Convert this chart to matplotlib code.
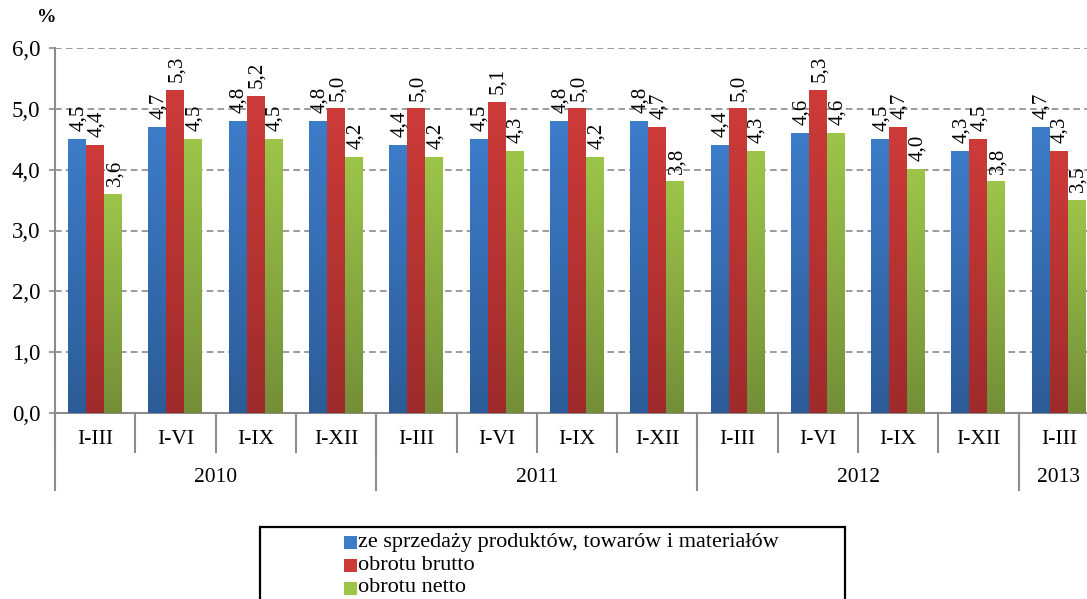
import matplotlib
matplotlib.use("Agg")
import matplotlib.pyplot as plt
import numpy as np
from matplotlib.colors import LinearSegmentedColormap
from matplotlib.transforms import blended_transform_factory
from matplotlib.patches import Rectangle

periods = ["I-III", "I-VI", "I-IX", "I-XII"] * 3 + ["I-III"]
years = ["2010", "2011", "2012", "2013"]
year_counts = [4, 4, 4, 1]

sprzedaz = [4.5, 4.7, 4.8, 4.8, 4.4, 4.5, 4.8, 4.8, 4.4, 4.6, 4.5, 4.3, 4.7]
brutto = [4.4, 5.3, 5.2, 5.0, 5.0, 5.1, 5.0, 4.7, 5.0, 5.3, 4.7, 4.5, 4.3]
netto = [3.6, 4.5, 4.5, 4.2, 4.2, 4.3, 4.2, 3.8, 4.3, 4.6, 4.0, 3.8, 3.5]

series = [
    ("ze sprzedaży produktów, towarów i materiałów", sprzedaz, "#3d7cc9", "#2c5c97"),
    ("obrotu brutto", brutto, "#cd3b39", "#9e2b2b"),
    ("obrotu netto", netto, "#9cc54a", "#748f38"),
]

plt.rcParams['font.family'] = ['Liberation Serif', 'DejaVu Serif']

W, H = 1087, 599
fig = plt.figure(figsize=(W / 100, H / 100), dpi=100)
left, right, top, bottom = 55, 55 + 13 * 80.3, 48, 413
ax = fig.add_axes([left / W, 1 - bottom / H, (right - left) / W, (bottom - top) / H])

n = len(periods)
x = np.arange(n)
bw = 0.224

for i, (name, vals, ctop, cbot) in enumerate(series):
    cmap = LinearSegmentedColormap.from_list(name, [cbot, ctop])
    grad = np.linspace(0, 1, 100).reshape(-1, 1)
    for xi, v in zip(x, vals):
        x0 = xi + (i - 1) * bw - bw / 2
        ax.imshow(grad, extent=[x0, x0 + bw, 0, v], origin='lower', cmap=cmap,
                  vmin=0, vmax=1, aspect='auto', zorder=3)
        ax.annotate(f"{v:.1f}".replace(".", ","), (x0 + bw / 2, v), xytext=(1, 6),
                    textcoords='offset points', rotation=90, ha='center', va='bottom',
                    fontsize=15, zorder=4)

ax.set_xlim(-0.5, n - 0.5)
ax.set_ylim(0, 6)
ax.set_yticks(np.arange(0, 6.1, 1))
ax.set_yticklabels([f"{t:.1f}".replace(".", ",") for t in np.arange(0, 6.1, 1)], fontsize=16.5)
ax.yaxis.grid(True, linestyle=(0, (4, 2.5)), color='#8a8a8a', linewidth=1.2, zorder=0)
ax.set_axisbelow(True)
ax.tick_params(axis='y', length=4.5, color='#8c8c8c', width=1.2, pad=6)
ax.set_xticks([])
for s in ['top', 'right']:
    ax.spines[s].set_visible(False)
for s in ['left', 'bottom']:
    ax.spines[s].set_color('#8c8c8c')
    ax.spines[s].set_linewidth(1.5)
ax.spines['left'].set_zorder(5)

# two-level category axis
tr = blended_transform_factory(ax.transData, fig.transFigure)
y_axis = 1 - bottom / H
y_cat = 1 - 452 / H
y_year = 1 - 490 / H
for xi in range(n + 1):
    b = xi - 0.5
    ax.plot([b, b], [y_axis, y_cat], transform=tr, color='#8c8c8c', lw=1.5, clip_on=False)
for xi, lab in zip(x, periods):
    ax.text(xi, 1 - 439 / H, lab, transform=tr, ha='center', va='center', fontsize=15.5)
start = 0
for yr, cnt in zip(years, year_counts):
    b = start - 0.5
    ax.plot([b, b], [y_axis, y_year], transform=tr, color='#8c8c8c', lw=1.5, clip_on=False)
    ax.text(start + (cnt - 1) / 2, 1 - 477 / H, yr, transform=tr, ha='center', va='center', fontsize=15.5)
    start += cnt

fig.text(47 / W, 1 - 18 / H, "%", fontsize=14, fontweight='bold', ha='center', va='center')

# legend box drawn by hand, as in the reference it runs off the bottom edge
fig.patches.append(Rectangle((260 / W, -0.02), 585 / W, 1 - 527 / H + 0.02, transform=fig.transFigure,
                             facecolor='none', edgecolor='black', linewidth=1.6))
for k, (name, _, ctop, _) in enumerate(series):
    yc = 542 + k * 23
    fig.patches.append(Rectangle((344 / W, 1 - (yc + 6.5) / H), 13 / W, 13 / H, transform=fig.transFigure,
                                 facecolor=ctop, edgecolor='none'))
    fig.text(358 / W, 1 - yc / H, name, fontsize=16, ha='left', va='center')

fig.savefig("out.png", dpi=100)
